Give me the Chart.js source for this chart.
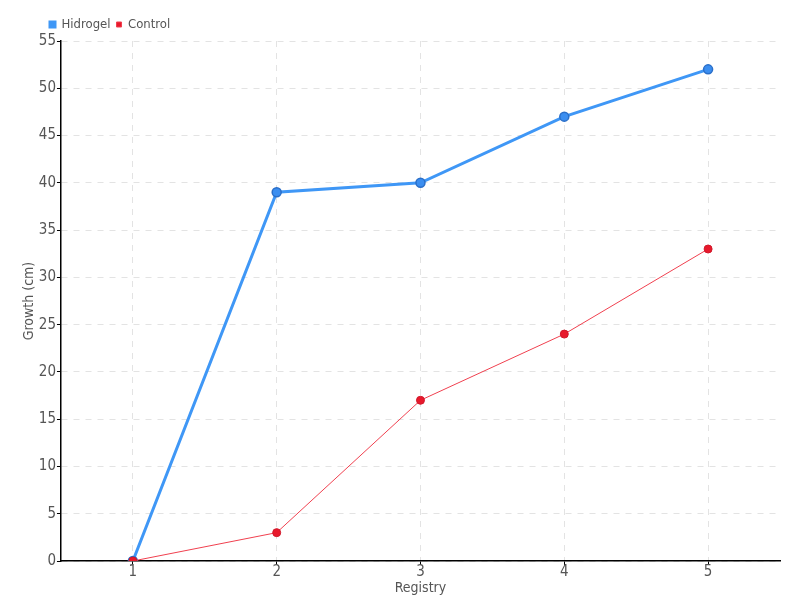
<!DOCTYPE html>
<html>
<head>
<meta charset="utf-8">
<script src="https://cdn.jsdelivr.net/npm/chart.js@4"></script>
<style>
  html, body { margin: 0; padding: 0; background: #fff; }
  #wrap { width: 800px; height: 600px; }
</style>
</head>
<body>
<div id="wrap"><canvas id="growthChart" width="800" height="600"></canvas></div>
<script>
const registries = ['1', '2', '3', '4', '5'];
const hidrogel = [0, 39, 40, 47, 52];
const control = [0, 3, 17, 24, 33];

const font = "'Liberation Sans Narrow', 'DejaVu Sans Condensed', sans-serif";

// nudge the legend to sit over the y axis labels like the original
const legendShift = {
  id: 'legendShift',
  afterLayout(chart) {
    chart.legend.left = 44;
  }
};

const ctx = document.getElementById('growthChart').getContext('2d');
new Chart(ctx, {
  type: 'line',
  data: {
    labels: registries,
    datasets: [{
      label: 'Hidrogel',
      data: hidrogel,
      order: 2,
      borderColor: '#3f97f6',
      backgroundColor: '#3f97f6',
      borderWidth: 3,
      pointRadius: 4.5,
      pointBorderColor: '#2a6fc9',
      pointBorderWidth: 1.5,
      pointBackgroundColor: '#3b8ef0',
      fill: false
    }, {
      label: 'Control',
      data: control,
      order: 1,
      borderColor: '#f0404f',
      backgroundColor: '#e8192c',
      borderWidth: 1,
      pointRadius: 4,
      pointBorderColor: '#d0182a',
      pointBorderWidth: 1,
      pointBackgroundColor: '#e8192c',
      fill: false
    }]
  },
  options: {
    responsive: false,
    animation: false,
    layout: { padding: { left: 21, right: 20, top: 12, bottom: 4 } },
    plugins: {
      legend: {
        align: 'start',
        labels: {
          boxWidth: 5,
          boxHeight: 5,
          padding: 6,
          color: '#555',
          font: { family: font, size: 13 },
          sort: (a, b) => a.datasetIndex - b.datasetIndex
        }
      },
      tooltip: { enabled: false }
    },
    scales: {
      x: {
        offset: true,
        grid: {
          color: '#e3e3e3',
          tickColor: '#000',
          tickLength: 4,
          offset: false
        },
        border: { color: '#000', width: 1.5, dash: [6, 6] },
        ticks: { color: '#555', padding: 0, font: { family: font, size: 15, lineHeight: 1 } },
        title: { display: true, text: 'Registry', color: '#555', padding: 1, font: { family: font, size: 14, lineHeight: 1 } }
      },
      y: {
        min: 0,
        max: 55,
        grid: {
          color: '#e3e3e3',
          tickColor: '#000',
          tickLength: 4
        },
        border: { color: '#000', width: 1.5, dash: [6, 6] },
        ticks: { stepSize: 5, color: '#555', padding: 1, font: { family: font, size: 15 } },
        title: { display: true, text: 'Growth (cm)', color: '#555', padding: 0, font: { family: font, size: 14 } }
      }
    }
  },
  plugins: [legendShift]
});
</script>
</body>
</html>
